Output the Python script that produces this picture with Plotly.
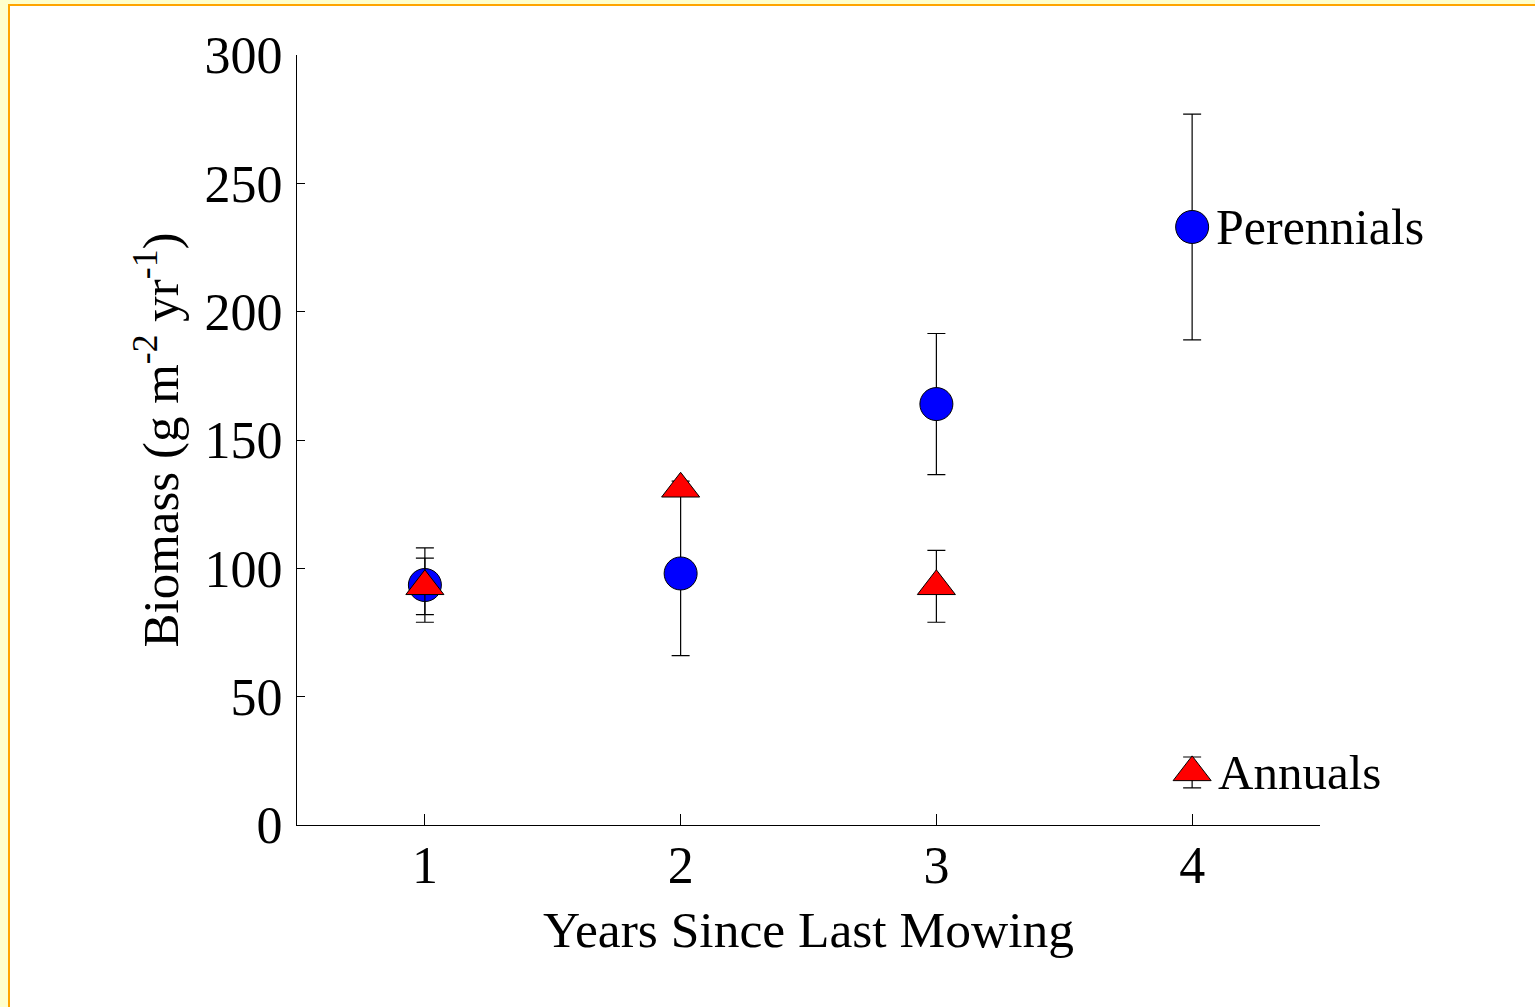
import plotly.graph_objects as go

years = [1, 2, 3, 4]
perennial_mean = [93.5, 98, 164, 233]
perennial_err = [14.5, 32, 27.5, 44]
annual_mean = [93, 131, 93, 20.5]
annual_err = [11, 3, 14, 6]
ytick_vals = [0, 50, 100, 150, 200, 250, 300]
xtick_vals = [1, 2, 3, 4]

FONT = "Liberation Serif"
W, H = 1535, 1007
L, R, T, B = 297, 1320, 55, 825

fig = go.Figure()
fig.add_trace(go.Scatter(
    x=years, y=perennial_mean, mode="markers", name="Perennials",
    marker=dict(symbol="circle", size=33, color="#0000ff", line=dict(color="black", width=1)),
    error_y=dict(type="data", array=perennial_err, color="black", thickness=1.2, width=9),
    showlegend=False,
))
fig.add_trace(go.Scatter(
    x=years, y=annual_mean, mode="markers", name="Annuals",
    marker=dict(symbol="triangle-up", size=33, color="#ff0000", line=dict(color="black", width=1)),
    error_y=dict(type="data", array=annual_err, color="black", thickness=1.2, width=9),
    showlegend=False,
))

fig.add_annotation(x=years[3], y=perennial_mean[3], text="Perennials", showarrow=False,
                   xanchor="left", yanchor="middle", xshift=22,
                   font=dict(family=FONT, size=50, color="black"))
fig.add_annotation(x=years[3], y=annual_mean[3], text="Annuals", showarrow=False,
                   xanchor="left", yanchor="middle", xshift=24, yshift=0,
                   font=dict(family=FONT, size=49, color="black"))

def px(x):
    return (x - L) / (R - L)

def py(y):
    return (B - y) / (B - T)

shapes = [
    dict(type="rect", xref="paper", yref="paper", x0=px(0), x1=px(8), y0=py(H), y1=py(0),
         fillcolor="#ffffcc", line=dict(width=0), layer="below"),
    dict(type="rect", xref="paper", yref="paper", x0=px(0), x1=px(W), y0=py(4), y1=py(0),
         fillcolor="#ffffcc", line=dict(width=0), layer="below"),
    dict(type="rect", xref="paper", yref="paper", x0=px(8), x1=px(10), y0=py(H), y1=py(4),
         fillcolor="#ffa500", line=dict(width=0), layer="below"),
    dict(type="rect", xref="paper", yref="paper", x0=px(8), x1=px(W), y0=py(6), y1=py(4),
         fillcolor="#ffa500", line=dict(width=0), layer="below"),
]

fig.update_layout(
    width=W, height=H,
    margin=dict(l=L, r=W - R, t=T, b=H - B),
    paper_bgcolor="white", plot_bgcolor="white",
    shapes=shapes,
    font=dict(family=FONT, size=52, color="black"),
    xaxis=dict(
        range=[0.5, 4.5], tickvals=xtick_vals, ticktext=[str(v) for v in xtick_vals],
        ticks="inside", ticklen=11, tickwidth=1, tickcolor="black",
        showline=True, linecolor="black", linewidth=1, showgrid=False, zeroline=False,
        tickfont=dict(family=FONT, size=52), ticklabelstandoff=-5,
        title=dict(text="Years Since Last Mowing", font=dict(family=FONT, size=51.5), standoff=17),
    ),
    yaxis=dict(
        range=[0, 300], tickvals=ytick_vals, ticktext=[str(v) for v in ytick_vals],
        ticks="inside", ticklen=8, tickwidth=1, tickcolor="black",
        showline=True, linecolor="black", linewidth=1, showgrid=False, zeroline=False,
        tickfont=dict(family=FONT, size=52), ticklabelstandoff=3,
        title=dict(text="Biomass (g m<sup>-2</sup> yr<sup>-1</sup>)", font=dict(family=FONT, size=51), standoff=9),
    ),
)

fig.write_html("out.html", config={"displayModeBar": False},
               post_script="document.body.style.margin='0';document.body.style.overflow='hidden';")
